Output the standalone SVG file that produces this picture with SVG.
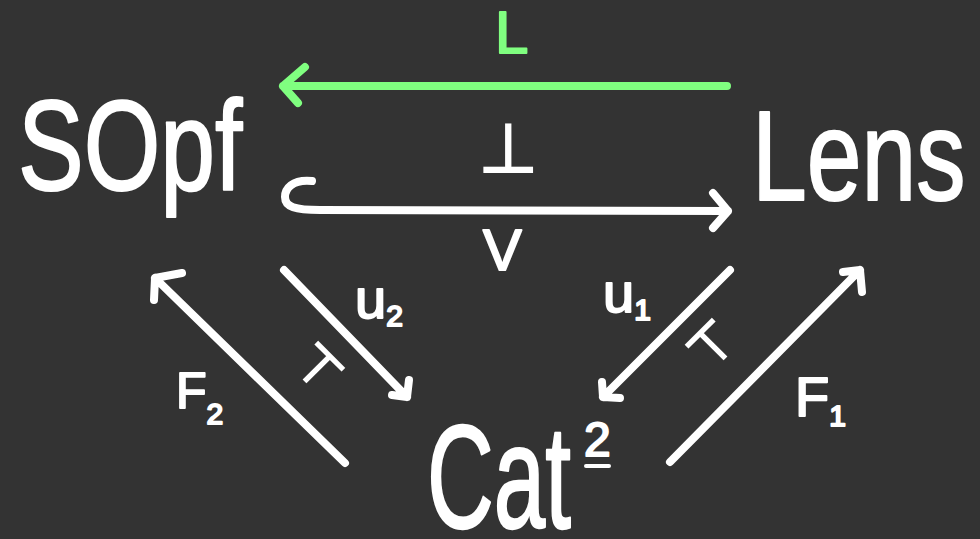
<svg xmlns="http://www.w3.org/2000/svg" width="980" height="539" viewBox="0 0 980 539">
<style>
.bg{fill:#333333}
.t{font-family:"Liberation Sans","DejaVu Sans",sans-serif;fill:#ffffff;stroke:#ffffff;stroke-width:2;stroke-linejoin:round}
.big{font-family:"Liberation Sans","DejaVu Sans",sans-serif;fill:#ffffff;stroke:#ffffff;stroke-width:1.6;stroke-linejoin:round;font-size:100px}
.sym{font-family:"DejaVu Sans",sans-serif;fill:#ffffff;stroke:#ffffff;stroke-width:2;text-anchor:middle}
.g{fill:#80ff80;stroke:#80ff80}
.w{fill:none;stroke:#ffffff;stroke-width:8;stroke-linecap:round;stroke-linejoin:round}
.gl{fill:none;stroke:#80ff80;stroke-width:8;stroke-linecap:round;stroke-linejoin:round}
</style>
<rect class="bg" x="0" y="0" width="980" height="539"/>
<g id="node-sopf"><text class="big" transform="translate(18,190) scale(0.985,1.28)">SOpf</text></g>
<g id="node-lens"><text class="big" transform="translate(752,200) scale(0.985,1.28)">Lens</text></g>
<g id="node-cat"><text class="big" transform="translate(427,528) scale(0.925,1.46)">Cat</text>
<text class="t" x="584" y="456" font-size="48" stroke-width="1.5">2</text>
<line x1="586" y1="466" x2="609" y2="466" stroke="#ffffff" stroke-width="4" stroke-linecap="round"/></g>
<g id="connectors">
<path class="gl" d="M727,86 L283,86 M305,67 L283,86 L298,103"/>
<path class="w" d="M312,181 C292,179 285,189 285,197 C285,207 295,210 320,210 L728,211 M713,193 L728,211 L713,228"/>
<path class="w" d="M345,463 L155,278 M182,273 L155,278 L154,300"/>
<path class="w" d="M284,270 L407,397 M409,380 L407,397 L392,395"/>
<path class="w" d="M730,270 L603,397 M602,382 L603,397 L620,398"/>
<path class="w" d="M670,462 L860,270 M843,272 L860,270 L862,292"/>
</g>
<g id="labels">
<text class="t g" x="495" y="53" font-size="60" stroke-width="1.5">L</text>
<text class="sym" x="508" y="172" font-size="68">⊥</text>
<text class="t" x="483" y="270" font-size="58" stroke-width="1.5">V</text>
<text class="sym" font-size="52" transform="translate(318,368) rotate(45)" y="18">⊤</text>
<text class="sym" font-size="52" transform="translate(712,345) rotate(-45)" y="18">⊤</text>
<text class="t" x="355" y="318" font-size="56" stroke-width="1.5">u<tspan font-size="30" dy="8">2</tspan></text>
<text class="t" x="603" y="312" font-size="56" stroke-width="1.5">u<tspan font-size="30" dy="8">1</tspan></text>
<text class="t" x="176" y="408" font-size="50" stroke-width="1.5">F<tspan font-size="30" dy="16">2</tspan></text>
<text class="t" x="795" y="416" font-size="56" stroke-width="1.5">F<tspan font-size="30" dy="10">1</tspan></text>
</g>
</svg>
